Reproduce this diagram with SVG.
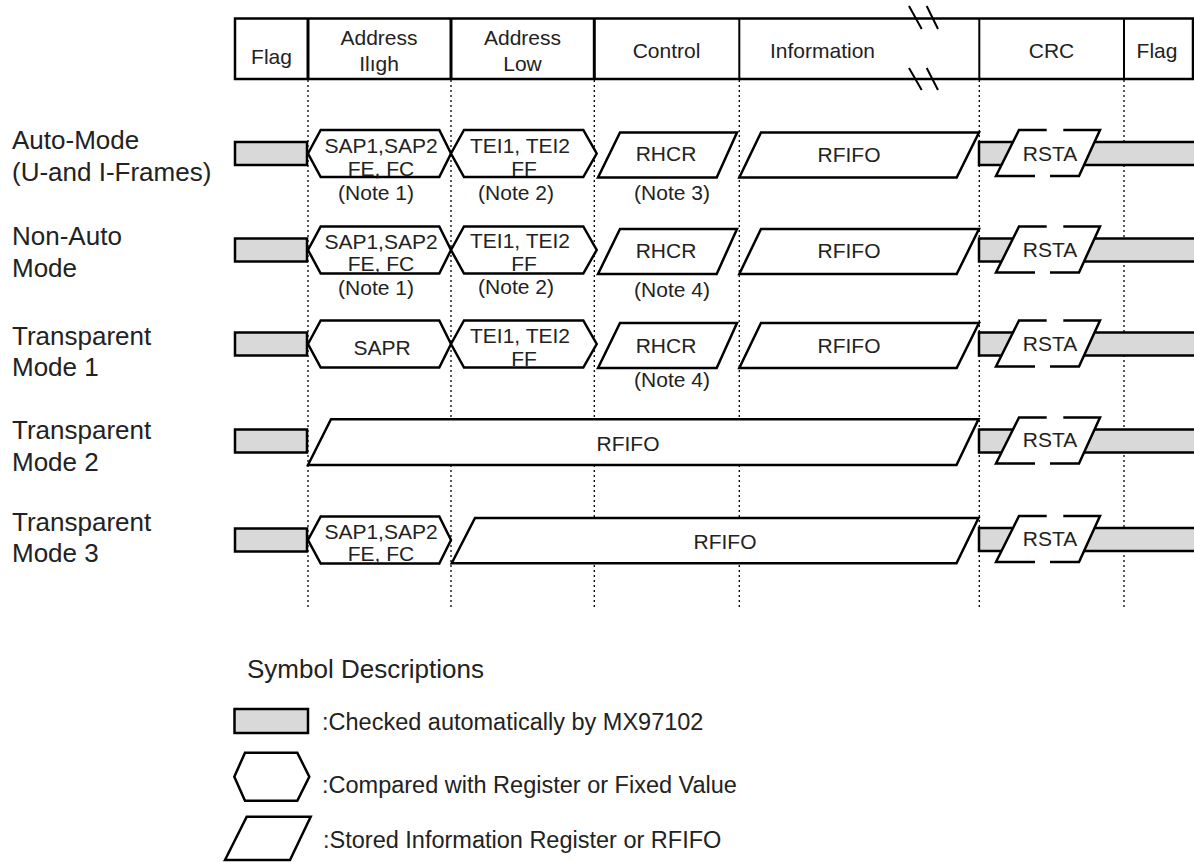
<svg xmlns="http://www.w3.org/2000/svg" xmlns:xlink="http://www.w3.org/1999/xlink" width="1194" height="862" viewBox="0 0 1194 862">
<style>
text{font-family:"Liberation Sans",Arial,sans-serif;fill:#222;}
.hd{font-size:21px;text-anchor:middle;}
.lb{font-size:26px;}
.sh{font-size:21px;text-anchor:middle;}
.nt{font-size:21px;text-anchor:middle;}
.lg{font-size:23.5px;}
.ln{fill:none;stroke:#000;stroke-width:2.5;stroke-linejoin:miter;}
.wt{fill:#fff;stroke:#000;stroke-width:2.5;}
.gray{fill:#d9d9d9;stroke:#000;stroke-width:2.5;}
.dot{fill:none;stroke:#000;stroke-width:1.3;stroke-dasharray:2 3;}
</style>
<defs>
<g id="flagbox"><rect x="235" y="-11.5" width="72" height="23" class="gray"/></g>
<g id="hexA"><polygon points="308,0 320.7,-23.5 439.3,-23.5 451,0 439.3,23.5 320.7,23.5" class="wt"/></g>
<g id="hexB"><polygon points="451,0 464,-23.5 583.3,-23.5 596.7,0 583.3,23.5 464,23.5" class="wt"/></g>
<g id="parC"><polygon points="598,23 620,-22 737,-22 716.7,23" class="wt"/></g>
<g id="parI"><polygon points="739.3,23 761,-22 979,-22 956.7,23" class="wt"/></g>
<g id="rsta">
<rect x="979" y="-11.5" width="225" height="23" class="gray"/>
<polygon points="1019,-23.5 1100,-23.5 1079,22.5 996,22.5" fill="#fff" stroke="none"/>
<path d="M1063.3,-23.5 L1100,-23.5 L1079,22.5 L1050,22.5 M1035,22.5 L996,22.5 L1019,-23.5 L1046.7,-23.5" class="ln"/>
</g>
</defs>

<g id="header">
<rect x="235" y="18.5" width="958" height="60.5" fill="#fff" stroke="#000" stroke-width="2.5"/>
<line x1="308" y1="18.5" x2="308" y2="79" stroke="#000" stroke-width="3"/>
<line x1="451" y1="18.5" x2="451" y2="79" stroke="#000" stroke-width="3"/>
<line x1="594.3" y1="18.5" x2="594.3" y2="79" stroke="#000" stroke-width="3"/>
<line x1="739.3" y1="18.5" x2="739.3" y2="79" stroke="#000" stroke-width="2"/>
<line x1="979.3" y1="18.5" x2="979.3" y2="79" stroke="#000" stroke-width="2"/>
<line x1="1124" y1="18.5" x2="1124" y2="79" stroke="#000" stroke-width="2"/>
<path d="M909,6 L921.7,29 M926.7,6 L938,29 M909,68 L921.7,90 M926.7,68 L938,90" fill="none" stroke="#000" stroke-width="2"/>
<text class="hd" x="271.5" y="64">Flag</text>
<text class="hd" x="379" y="45">Address</text>
<text class="hd" x="379" y="71">Ilıgh</text>
<text class="hd" x="522.5" y="45">Address</text>
<text class="hd" x="522.5" y="71">Low</text>
<text class="hd" x="666.5" y="58">Control</text>
<text class="hd" x="822.5" y="58">Information</text>
<text class="hd" x="1051.5" y="58">CRC</text>
<text class="hd" x="1157" y="58">Flag</text>
</g>

<g id="guides">
<line class="dot" x1="308" y1="80" x2="308" y2="608"/>
<line class="dot" x1="451" y1="80" x2="451" y2="608"/>
<line class="dot" x1="594.3" y1="80" x2="594.3" y2="608"/>
<line class="dot" x1="739.3" y1="80" x2="739.3" y2="608"/>
<line class="dot" x1="979.3" y1="80" x2="979.3" y2="608"/>
<line class="dot" x1="1124" y1="80" x2="1124" y2="608"/>
</g>

<g id="labels">
<text class="lb" x="12" y="149">Auto-Mode</text>
<text class="lb" x="12" y="181">(U-and I-Frames)</text>
<text class="lb" x="12" y="245">Non-Auto</text>
<text class="lb" x="12" y="277">Mode</text>
<text class="lb" x="12" y="345">Transparent</text>
<text class="lb" x="12" y="376">Mode 1</text>
<text class="lb" x="12" y="439">Transparent</text>
<text class="lb" x="12" y="471">Mode 2</text>
<text class="lb" x="12" y="531">Transparent</text>
<text class="lb" x="12" y="562">Mode 3</text>
</g>

<g id="row1">
<g id="r1-flag"><use xlink:href="#flagbox" href="#flagbox" y="153.5"/></g>
<g id="r1-sap"><use xlink:href="#hexA" href="#hexA" y="153.5"/>
<text class="sh" x="381" y="153">SAP1,SAP2</text><text class="sh" x="381" y="176">FE, FC</text><text class="nt" x="376" y="200">(Note 1)</text></g>
<g id="r1-tei"><use xlink:href="#hexB" href="#hexB" y="153.5"/>
<text class="sh" x="520" y="153">TEI1, TEI2</text><text class="sh" x="524" y="176">FF</text><text class="nt" x="516" y="200">(Note 2)</text></g>
<g id="r1-rhcr"><use xlink:href="#parC" href="#parC" y="154.5"/>
<text class="sh" x="666" y="161">RHCR</text><text class="nt" x="672" y="200">(Note 3)</text></g>
<g id="r1-rfifo"><use xlink:href="#parI" href="#parI" y="154.5"/>
<text class="sh" x="849" y="162">RFIFO</text></g>
<g id="r1-rsta"><use xlink:href="#rsta" href="#rsta" y="153.5"/>
<text class="sh" x="1050" y="161">RSTA</text></g>
</g>

<g id="row2">
<g id="r2-flag"><use xlink:href="#flagbox" href="#flagbox" y="250"/></g>
<g id="r2-sap"><use xlink:href="#hexA" href="#hexA" y="250"/>
<text class="sh" x="381" y="249">SAP1,SAP2</text><text class="sh" x="381" y="271">FE, FC</text><text class="nt" x="376" y="295">(Note 1)</text></g>
<g id="r2-tei"><use xlink:href="#hexB" href="#hexB" y="250"/>
<text class="sh" x="520" y="248">TEI1, TEI2</text><text class="sh" x="524" y="271">FF</text><text class="nt" x="516" y="294">(Note 2)</text></g>
<g id="r2-rhcr"><use xlink:href="#parC" href="#parC" y="251"/>
<text class="sh" x="666" y="258">RHCR</text><text class="nt" x="672" y="297">(Note 4)</text></g>
<g id="r2-rfifo"><use xlink:href="#parI" href="#parI" y="251"/>
<text class="sh" x="849" y="258">RFIFO</text></g>
<g id="r2-rsta"><use xlink:href="#rsta" href="#rsta" y="250"/>
<text class="sh" x="1050" y="257">RSTA</text></g>
</g>

<g id="row3">
<g id="r3-flag"><use xlink:href="#flagbox" href="#flagbox" y="344"/></g>
<g id="r3-sap"><use xlink:href="#hexA" href="#hexA" y="344"/>
<text class="sh" x="382" y="355">SAPR</text></g>
<g id="r3-tei"><use xlink:href="#hexB" href="#hexB" y="344"/>
<text class="sh" x="520" y="343">TEI1, TEI2</text><text class="sh" x="524" y="366">FF</text></g>
<g id="r3-rhcr"><use xlink:href="#parC" href="#parC" y="345"/>
<text class="sh" x="666" y="353">RHCR</text><text class="nt" x="672" y="387">(Note 4)</text></g>
<g id="r3-rfifo"><use xlink:href="#parI" href="#parI" y="345"/>
<text class="sh" x="849" y="353">RFIFO</text></g>
<g id="r3-rsta"><use xlink:href="#rsta" href="#rsta" y="344"/>
<text class="sh" x="1050" y="351">RSTA</text></g>
</g>

<g id="row4">
<g id="r4-flag"><use xlink:href="#flagbox" href="#flagbox" y="441"/></g>
<g id="r4-rfifo"><polygon points="308,465 331,419.3 978.5,419.3 956.5,465" class="wt"/>
<text class="sh" x="628" y="451">RFIFO</text></g>
<g id="r4-rsta"><use xlink:href="#rsta" href="#rsta" y="441"/>
<text class="sh" x="1050" y="447">RSTA</text></g>
</g>

<g id="row5">
<g id="r5-flag"><use xlink:href="#flagbox" href="#flagbox" y="540"/></g>
<g id="r5-sap"><use xlink:href="#hexA" href="#hexA" y="540"/>
<text class="sh" x="381" y="539">SAP1,SAP2</text><text class="sh" x="381" y="561">FE, FC</text></g>
<g id="r5-rfifo"><polygon points="451.7,563.3 475,518 978.5,518 956.5,563.3" class="wt"/>
<text class="sh" x="725" y="549">RFIFO</text></g>
<g id="r5-rsta"><use xlink:href="#rsta" href="#rsta" y="539.5"/>
<text class="sh" x="1050" y="546">RSTA</text></g>
</g>

<g id="legend">
<text x="247" y="678" style="font-size:26px">Symbol Descriptions</text>
<g id="lg-checked"><rect x="234.5" y="709" width="73.5" height="24" class="gray"/>
<text class="lg" x="322" y="730">:Checked automatically by MX97102</text></g>
<g id="lg-compared"><polygon points="234.3,776.7 245,752.7 297.3,752.7 309.3,776.7 297.3,800.7 245,800.7" class="wt"/>
<text class="lg" x="322" y="793">:Compared with Register or Fixed Value</text></g>
<g id="lg-stored"><polygon points="225,860 246.7,816.7 310.7,816.7 290,860" class="wt"/>
<text class="lg" x="323" y="848">:Stored Information Register or RFIFO</text></g>
</g>
</svg>
